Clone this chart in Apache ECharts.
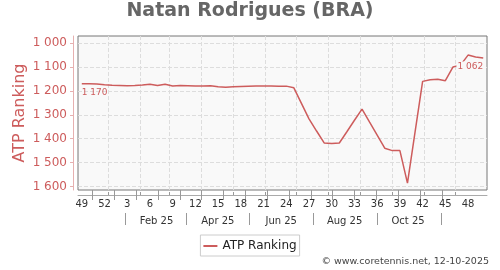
<!DOCTYPE html>
<html><head><meta charset="utf-8">
<script src="https://cdn.jsdelivr.net/npm/echarts@6/dist/echarts.min.js"></script>
<style>html,body{margin:0;padding:0;background:#fff}#c{width:500px;height:270px}</style>
</head><body><div id="c"></div>
<script>
// ---- data ----
const chartTitle = 'Natan Rodrigues (BRA)';
const seriesName = 'ATP Ranking';
const firstWeekDate = '2024-12-06';
const weekLabels = [49,50,51,52,1,2,3,4,5,6,7,8,9,10,11,12,13,14,15,16,17,18,19,20,21,22,23,24,25,26,27,28,29,30,31,32,33,34,35,36,37,38,39,40,41,42,43,44,45,46,47,48,49,50];
const ranking = [1170,1170,1171,1174,1176,1177,1178,1177,1175,1172,1177,1172,1179,1177,1178,1179,1179,1178,1183,1185,1183,1181,1180,1179,1179,1179,1180,1180,1187,1252,1317,1368,1418,1420,1418,1371,1323,1276,1331,1385,1440,1450,1450,1586,1373,1160,1153,1151,1157,1100,1092,1050,1058,1062];
const monthLabels = ['Feb 25','Apr 25','Jun 25','Aug 25','Oct 25'];
const monthLabelDays = ['2025-02-16','2025-04-16','2025-06-16','2025-08-16','2025-10-16'];
const monthSeparatorDays = ['2025-01-17','2025-03-17','2025-05-17','2025-07-17','2025-09-17','2025-11-17'];
const footerText = '\u00a9 www.coretennis.net, 12-10-2025';

// ---- helpers ----
const RED = '#cd5c5c';
const FONT = 'DejaVu Sans';
const fmt = v => String(v).replace(/\B(?=(\d{3})+(?!\d))/g, ' ');
function addDays(iso, n){ const d = new Date(iso + 'T00:00:00Z'); d.setUTCDate(d.getUTCDate() + n); return d.toISOString().slice(0,10); }
const extraWeeks = 4;
const nWeeks = weekLabels.length;
const weekIdx = Array.from({length: nWeeks + extraWeeks}, (_, i) => String(i));
const dayStart = addDays(firstWeekDate, -3);
const days = Array.from({length: (nWeeks + extraWeeks) * 7}, (_, i) => addDays(dayStart, i));
const isMonthStart = (i, v) => v.slice(8) === '01' && v.slice(0,4) === '2025';
const isSep = (i, v) => monthSeparatorDays.indexOf(v) >= 0;
const isLab = (i, v) => monthLabelDays.indexOf(v) >= 0;

const gridW = 409;
const seriesData = ranking.map((v, i) => {
  if (i === 0) return {value: v, label: {show: true, position: 'right', offset: [-5, 9]}};
  if (i === ranking.length - 1) return {value: v, label: {show: true, position: 'left', offset: [6, 9], backgroundColor: '#f9f9f9', padding: [1, 1]}};
  return v;
});

const chart = echarts.init(document.getElementById('c'), null, {renderer: 'canvas'});
chart.setOption({
  animation: false,
  textStyle: {fontFamily: FONT},
  title: {text: chartTitle, left: 'center', top: 2, padding: 0,
    textStyle: {fontFamily: FONT, fontSize: 19, fontWeight: 'bold', color: '#666'}},
  legend: {data: [seriesName], left: 'center', top: 235, padding: [5, 3, 4, 3],
    borderColor: '#ccc', borderWidth: 1, icon: 'rect', itemWidth: 14, itemHeight: 2,
    textStyle: {fontFamily: FONT, fontSize: 12, color: '#222'}},
  grid: [
    {left: 78, top: 36, width: gridW, height: 154, show: true, backgroundColor: '#f9f9f9', borderColor: '#777', borderWidth: 1},
    {left: 78, top: 36, width: gridW * (nWeeks + extraWeeks) / nWeeks, height: 154, show: false}
  ],
  xAxis: [
    {type: 'category', gridIndex: 0, position: 'bottom', data: weekLabels, boundaryGap: true, offset: 5,
      axisLine: {show: true, lineStyle: {color: '#aaa'}}, axisTick: {show: false},
      axisLabel: {interval: 2, margin: 4, fontSize: 10, color: '#333', fontFamily: FONT},
      splitLine: {show: false}},
    {type: 'category', gridIndex: 1, position: 'bottom', data: weekIdx, boundaryGap: true, offset: 10,
      axisLine: {show: false}, axisLabel: {show: false}, splitLine: {show: false},
      axisTick: {show: true, length: 10, interval: (i) => i % 3 === 2 && i < nWeeks - 2, lineStyle: {color: '#999'}}},
    {type: 'category', gridIndex: 1, position: 'bottom', data: days, boundaryGap: true, offset: 5,
      axisLine: {show: false}, axisLabel: {show: false},
      axisTick: {show: true, inside: true, length: 3, interval: isMonthStart, lineStyle: {color: '#999'}},
      splitLine: {show: true, interval: isMonthStart, lineStyle: {type: 'dashed', color: '#ddd'}}},
    {type: 'category', gridIndex: 1, position: 'bottom', data: days, boundaryGap: true, offset: 23,
      axisLine: {show: false}, splitLine: {show: false},
      axisTick: {show: true, length: 12, interval: isSep, lineStyle: {color: '#999'}},
      axisLabel: {show: true, interval: isLab, margin: 3, fontSize: 10, color: '#333', fontFamily: FONT,
        formatter: v => monthLabels[monthLabelDays.indexOf(v)] || ''}}
  ],
  yAxis: [
    {type: 'value', gridIndex: 0, inverse: true, min: 970, max: 1615, offset: 5,
      name: seriesName, nameLocation: 'middle', nameGap: 45, nameMoveOverlap: false,
      nameTextStyle: {color: RED, fontSize: 16, fontFamily: FONT},
      axisLine: {show: true, lineStyle: {color: '#e6b0b0'}},
      axisTick: {show: true, length: 3, lineStyle: {color: '#e6b0b0'}},
      axisLabel: {color: RED, fontSize: 12, margin: 6, fontFamily: FONT, formatter: fmt, showMinLabel: false, showMaxLabel: false},
      splitLine: {show: true, showMinLine: false, showMaxLine: false, lineStyle: {type: 'dashed', color: '#ddd'}}},
    {type: 'value', gridIndex: 1, show: false, min: 0, max: 1}
  ],
  series: [{
    name: seriesName, type: 'line', xAxisIndex: 0, yAxisIndex: 0,
    data: seriesData, color: RED, symbol: 'circle', symbolSize: 0, showSymbol: true, showAllSymbol: true,
    lineStyle: {width: 1.5, color: RED}, itemStyle: {color: RED},
    label: {show: false, color: RED, fontSize: 9, fontFamily: FONT, formatter: p => fmt(p.value)},
    emphasis: {disabled: true}
  }],
  graphic: [{type: 'text', right: 11, bottom: 3,
    style: {text: footerText, fontFamily: FONT, fontSize: 9.5, fill: '#444'}}]
});
</script></body></html>
